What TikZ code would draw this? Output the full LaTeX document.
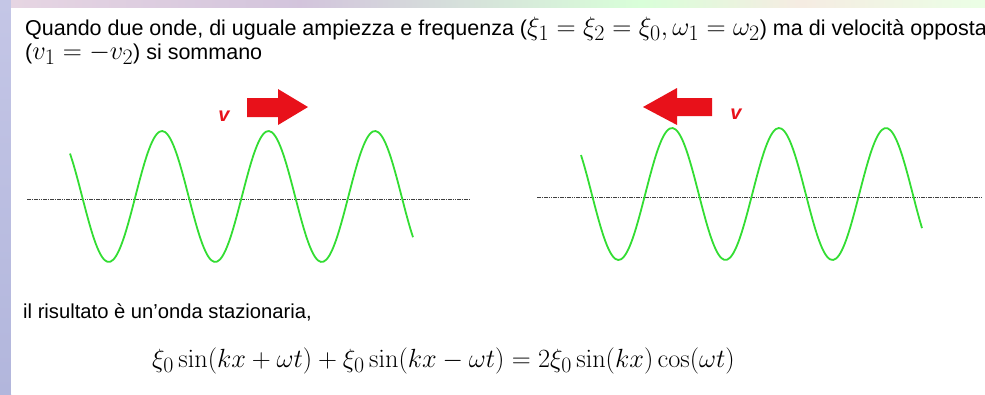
\documentclass[tikz,border=0pt]{standalone}
\usepackage{graphicx}
\usepackage[no-math]{fontspec}
\setmainfont{Liberation Sans}
\usetikzlibrary{calc}
\definecolor{wavegreen}{HTML}{33DD33}
\definecolor{arrowred}{HTML}{E8111A}
\definecolor{lav}{HTML}{C4C6E6}
\definecolor{lavdark}{HTML}{B2B6DC}
\newcommand{\hdrmath}[1]{{\fontsize{24.88}{30}\selectfont\scalebox{1.065}{$#1$}}}
\tikzset{
  txt/.style={anchor=base west, inner sep=0pt, font=\fontsize{21.5}{25}\selectfont},
  txtb/.style={anchor=base west, inner sep=0pt, font=\fontsize{20.2}{24}\selectfont},
  eqn/.style={anchor=base west, inner sep=0pt, font=\fontsize{24.88}{30}\selectfont},
  vlab/.style={inner sep=0pt, text=arrowred, font=\fontsize{20}{24}\selectfont\bfseries\itshape},
  wave/.style={draw=wavegreen, line width=1.8pt, line join=round, smooth},
  axisline/.style={draw=black!75, line width=0.8pt, dash pattern=on 1.6pt off 0.7pt},
  fatarrow/.style={fill=arrowred, draw=none}
}
\begin{document}
\begin{tikzpicture}[x=1pt,y=-1pt]
\useasboundingbox (0,0) rectangle (985,394);
% background frame
\fill[white] (0,0) rectangle (985,394);
\shade[top color=lav, bottom color=lavdark] (0,0) rectangle (11,394);
\shade[left color=lav!60!pink!70, right color=pink!25!lav] (11,0) rectangle (300,8);
\shade[left color=pink!25!lav, right color=green!15!white] (300,0) rectangle (640,8);
\shade[left color=green!15!white, right color=brown!15!white] (640,0) rectangle (800,8);
\shade[left color=brown!15!white, right color=yellow!20!green!10] (800,0) rectangle (985,8);
\fill[white] (11,8) rectangle (985,394);

% texts
\node[txt] (l1) at (25,35) {Quando due onde, di uguale ampiezza e frequenza (\hdrmath{\xi_1=\xi_2=\xi_0,\omega_1=\omega_2}) ma di velocità opposta};
\node[txt] (l2) at (25,59) {(\hdrmath{v_1=-v_2}) si sommano};
\node[txtb] (l3) at (23,318) {il risultato è un’onda stazionaria,};
\node[eqn] (eq) at (152,367) {\scalebox{1.057}{$\xi_0\sin(kx+\omega t)+\xi_0\sin(kx-\omega t)=2\xi_0\sin(kx)\cos(\omega t)$}};

% axes
\coordinate (a1) at (27,199); \coordinate (a2) at (470,199);
\coordinate (b1) at (537,197); \coordinate (b2) at (982,197);
\draw[axisline] (a1) -- (a2);
\draw[axisline] (b1) -- (b2);

% waves
\draw[wave] plot[domain=70:413, samples=120] (\x,{196.5-65.5*cos(3.3803*(\x-162))});
\draw[wave] plot[domain=581:922, samples=120] (\x,{194-66*cos(3.3645*(\x-672))});

% arrows
\fill[fatarrow] (247,98) -- (278,98) -- (278,89) -- (308,107) -- (278,125) -- (278,117) -- (247,117) -- cycle;
\fill[fatarrow] (712,98) -- (677,98) -- (677,88) -- (643,107) -- (677,125) -- (677,116) -- (712,116) -- cycle;
\node[vlab] (v1) at (224,116) {v};
\node[vlab] (v2) at (736,114) {v};
\end{tikzpicture}
\end{document}
